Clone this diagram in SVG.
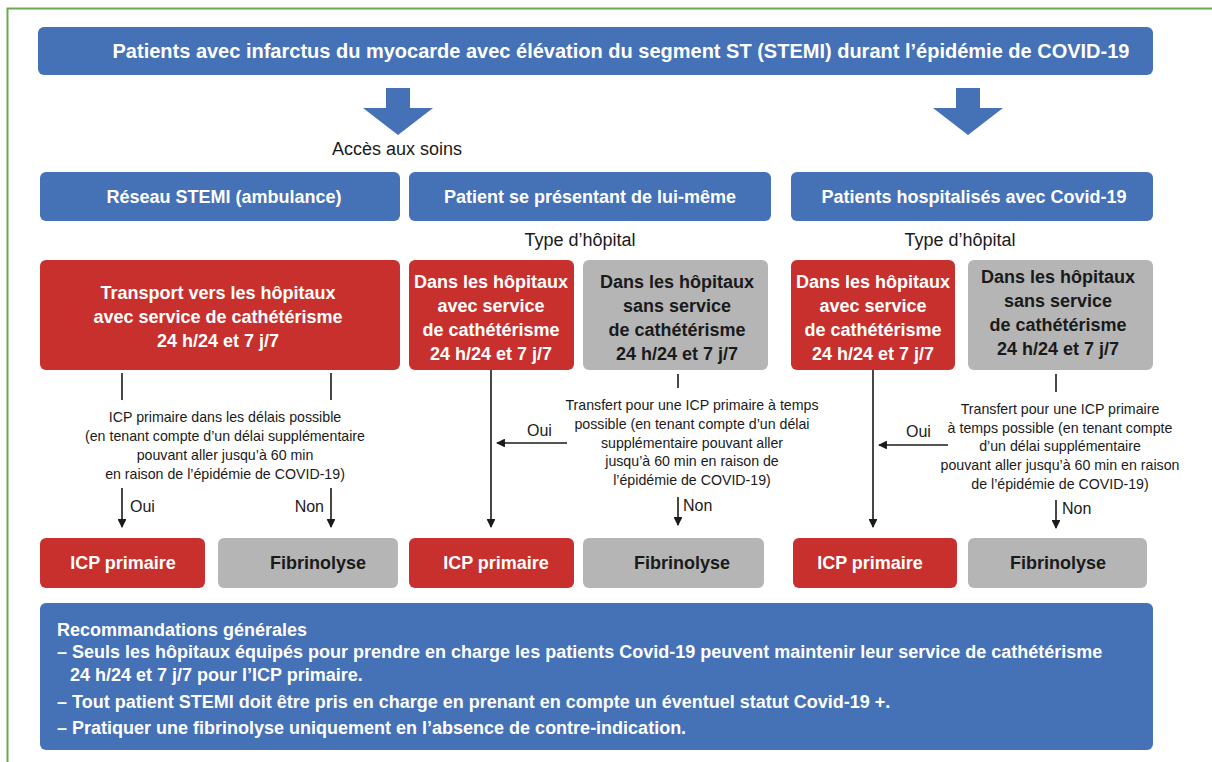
<svg xmlns="http://www.w3.org/2000/svg" width="1212" height="762" viewBox="0 0 1212 762">
<style>
.blue{fill:#4571b7}
.red{fill:#c8302d}
.gray{fill:#b5b5b5}
text{font-family:"Liberation Sans",Arial,sans-serif}
.hw{fill:#fff;font-weight:bold;font-size:20px;text-anchor:middle}
.bw{fill:#fff;font-weight:bold;font-size:18px;text-anchor:middle}
.bd{fill:#1a1a1a;font-weight:bold;font-size:18px;text-anchor:middle}
.lab{fill:#1a1a1a;font-size:18px;text-anchor:middle}
.sm{fill:#1a1a1a;font-size:14.2px;text-anchor:middle}
.yn{fill:#1a1a1a;font-size:16px}
.rec{fill:#fff;font-weight:bold;font-size:18px}
.ln{stroke:#1a1a1a;stroke-width:1.6;fill:none}
</style>
<defs>
<marker id="ah" viewBox="0 0 10 10" refX="9" refY="5" markerWidth="5.5" markerHeight="5.5" orient="auto" markerUnits="strokeWidth">
<path d="M0,0 L10,5 L0,10 Z" fill="#1a1a1a"/>
</marker>
</defs>
<rect width="1212" height="762" fill="#fff"/>
<path d="M7.5,762 V8.5 H1212" fill="none" stroke="#6aa84f" stroke-width="2"/>

<g id="title">
<rect class="blue" x="38" y="27" width="1115" height="48" rx="6"/>
<text class="hw" x="621" y="58">Patients avec infarctus du myocarde avec élévation du segment ST (STEMI) durant l’épidémie de COVID-19</text>
</g>

<g id="bigarrows">
<path class="blue" d="M386,88 H410 V108 H433 L398,135 L363,108 H386 Z"/>
<path class="blue" d="M956,88 H980 V108 H1003 L968,135 L933,108 H956 Z"/>
</g>

<g id="acces"><text class="lab" x="397" y="155">Accès aux soins</text></g>

<g id="reseau">
<rect class="blue" x="40" y="172" width="360" height="49" rx="6"/>
<text class="bw" x="224" y="203">Réseau STEMI (ambulance)</text>
</g>
<g id="selfpres">
<rect class="blue" x="409" y="172" width="362" height="49" rx="6"/>
<text class="bw" x="590" y="203">Patient se présentant de lui-même</text>
</g>
<g id="hospit">
<rect class="blue" x="791" y="172" width="362" height="49" rx="6"/>
<text class="bw" x="974" y="203">Patients hospitalisés avec Covid-19</text>
</g>

<g id="type1"><text class="lab" x="580" y="246">Type d’hôpital</text></g>
<g id="type2"><text class="lab" x="960" y="246">Type d’hôpital</text></g>

<g id="transport">
<rect class="red" x="40" y="260" width="360" height="110" rx="6"/>
<text class="bw" x="218" y="299">Transport vers les hôpitaux</text>
<text class="bw" x="218" y="323">avec service de cathétérisme</text>
<text class="bw" x="218" y="347">24 h/24 et 7 j/7</text>
</g>
<g id="avec2">
<rect class="red" x="409" y="260" width="165" height="110" rx="6"/>
<text class="bw" x="491" y="288">Dans les hôpitaux</text>
<text class="bw" x="491" y="312">avec service</text>
<text class="bw" x="491" y="336">de cathétérisme</text>
<text class="bw" x="491" y="360">24 h/24 et 7 j/7</text>
</g>
<g id="sans2">
<rect class="gray" x="583" y="260" width="185" height="110" rx="6"/>
<text class="bd" x="677" y="288">Dans les hôpitaux</text>
<text class="bd" x="677" y="312">sans service</text>
<text class="bd" x="677" y="336">de cathétérisme</text>
<text class="bd" x="677" y="360">24 h/24 et 7 j/7</text>
</g>
<g id="avec3">
<rect class="red" x="791" y="260" width="164" height="110" rx="6"/>
<text class="bw" x="873" y="288">Dans les hôpitaux</text>
<text class="bw" x="873" y="312">avec service</text>
<text class="bw" x="873" y="336">de cathétérisme</text>
<text class="bw" x="873" y="360">24 h/24 et 7 j/7</text>
</g>
<g id="sans3">
<rect class="gray" x="968" y="260" width="185" height="110" rx="6"/>
<text class="bd" x="1058" y="283">Dans les hôpitaux</text>
<text class="bd" x="1058" y="307">sans service</text>
<text class="bd" x="1058" y="331">de cathétérisme</text>
<text class="bd" x="1058" y="355">24 h/24 et 7 j/7</text>
</g>

<g id="icp1">
<rect class="red" x="40" y="538" width="165" height="50" rx="6"/>
<text class="bw" x="123" y="569">ICP primaire</text>
</g>
<g id="fib1">
<rect class="gray" x="218" y="538" width="180" height="50" rx="6"/>
<text class="bd" x="318" y="569">Fibrinolyse</text>
</g>
<g id="icp2">
<rect class="red" x="409" y="538" width="165" height="50" rx="6"/>
<text class="bw" x="496" y="569">ICP primaire</text>
</g>
<g id="fib2">
<rect class="gray" x="583" y="538" width="181" height="50" rx="6"/>
<text class="bd" x="682" y="569">Fibrinolyse</text>
</g>
<g id="icp3">
<rect class="red" x="793" y="538" width="164" height="50" rx="6"/>
<text class="bw" x="870" y="569">ICP primaire</text>
</g>
<g id="fib3">
<rect class="gray" x="968" y="538" width="179" height="50" rx="6"/>
<text class="bd" x="1058" y="569">Fibrinolyse</text>
</g>

<g id="connectors">
<line class="ln" x1="122" y1="373" x2="122" y2="400"/>
<line class="ln" x1="331" y1="373" x2="331" y2="400"/>
<line class="ln" x1="122" y1="488" x2="122" y2="527" marker-end="url(#ah)"/>
<line class="ln" x1="331" y1="488" x2="331" y2="527" marker-end="url(#ah)"/>
<line class="ln" x1="491" y1="370" x2="491" y2="527" marker-end="url(#ah)"/>
<line class="ln" x1="678" y1="374" x2="678" y2="388"/>
<line class="ln" x1="567" y1="443" x2="497" y2="443" marker-end="url(#ah)"/>
<line class="ln" x1="678" y1="497" x2="678" y2="525" marker-end="url(#ah)"/>
<line class="ln" x1="873" y1="370" x2="873" y2="527" marker-end="url(#ah)"/>
<line class="ln" x1="1056" y1="374" x2="1056" y2="392"/>
<line class="ln" x1="948" y1="445" x2="879" y2="445" marker-end="url(#ah)"/>
<line class="ln" x1="1056" y1="500" x2="1056" y2="528" marker-end="url(#ah)"/>
</g>

<g id="labels">
<text class="sm" x="225" y="422">ICP primaire dans les délais possible</text>
<text class="sm" x="225" y="441">(en tenant compte d’un délai supplémentaire</text>
<text class="sm" x="225" y="460">pouvant aller jusqu’à 60 min</text>
<text class="sm" x="225" y="479">en raison de l’épidémie de COVID-19)</text>
<text class="yn" x="130" y="512">Oui</text>
<text class="yn" x="324" y="512" text-anchor="end">Non</text>

<text class="sm" x="692" y="410">Transfert pour une ICP primaire à temps</text>
<text class="sm" x="692" y="429">possible (en tenant compte d’un délai</text>
<text class="sm" x="692" y="448">supplémentaire pouvant aller</text>
<text class="sm" x="692" y="466">jusqu’à 60 min en raison de</text>
<text class="sm" x="692" y="485">l’épidémie de COVID-19)</text>
<text class="yn" x="527" y="436">Oui</text>
<text class="yn" x="683" y="511">Non</text>

<text class="sm" x="1060" y="414">Transfert pour une ICP primaire</text>
<text class="sm" x="1060" y="433">à temps possible (en tenant compte</text>
<text class="sm" x="1060" y="451">d’un délai supplémentaire</text>
<text class="sm" x="1060" y="470">pouvant aller jusqu’à 60 min en raison</text>
<text class="sm" x="1060" y="489">de l’épidémie de COVID-19)</text>
<text class="yn" x="906" y="437">Oui</text>
<text class="yn" x="1062" y="514">Non</text>
</g>

<g id="recommandations">
<rect class="blue" x="40" y="603" width="1113" height="147" rx="6"/>
<text class="rec" x="57" y="636">Recommandations générales</text>
<text class="rec" x="57" y="658">– Seuls les hôpitaux équipés pour prendre en charge les patients Covid-19 peuvent maintenir leur service de cathétérisme</text>
<text class="rec" x="70" y="681">24 h/24 et 7 j/7 pour l’ICP primaire.</text>
<text class="rec" x="57" y="708">– Tout patient STEMI doit être pris en charge en prenant en compte un éventuel statut Covid-19 +.</text>
<text class="rec" x="57" y="734">– Pratiquer une fibrinolyse uniquement en l’absence de contre-indication.</text>
</g>
</svg>
